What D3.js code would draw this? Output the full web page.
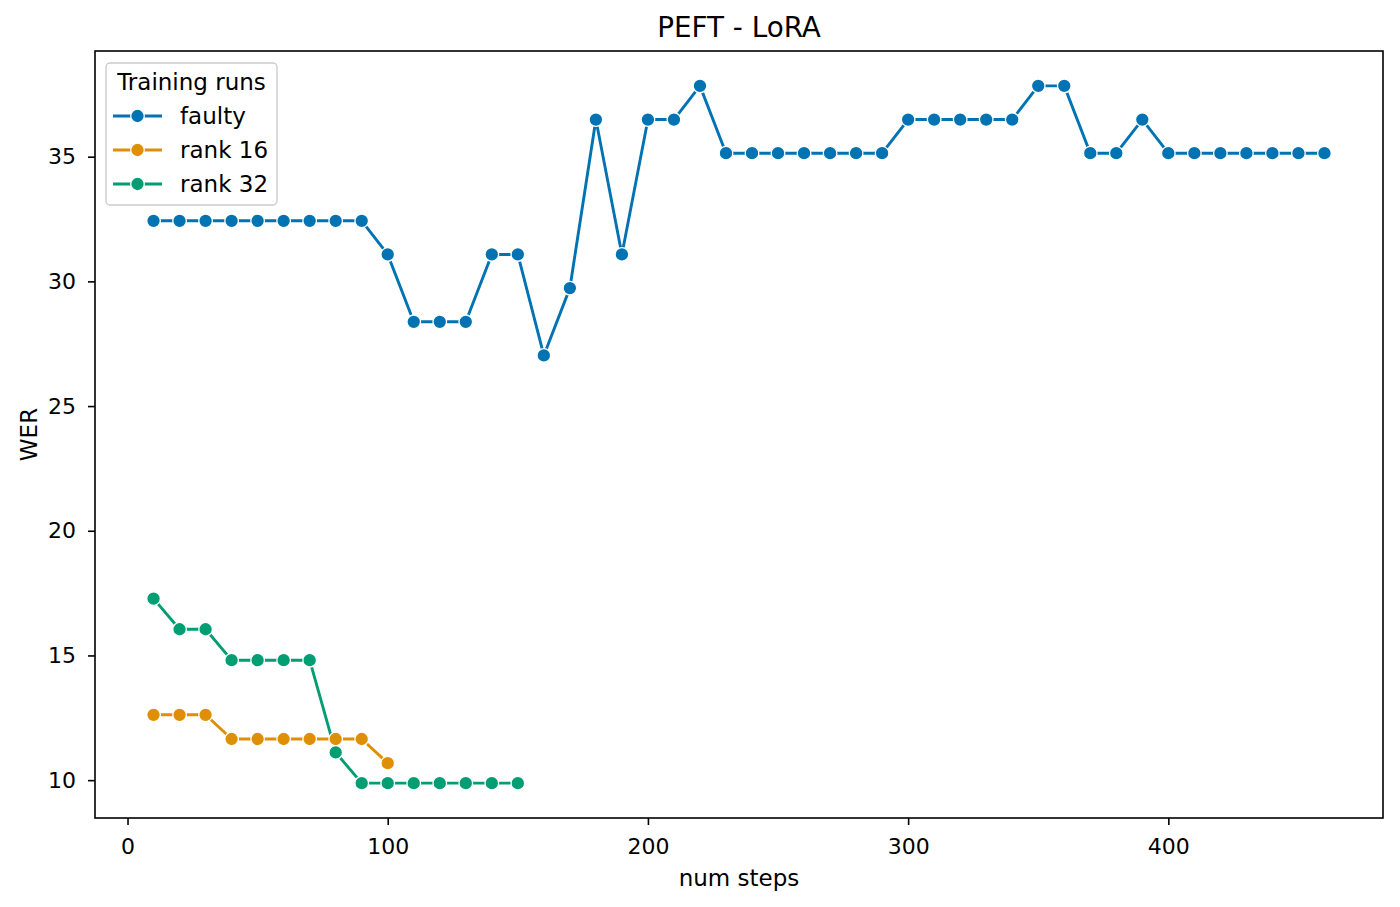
<!DOCTYPE html>
<html>
<head>
<meta charset="utf-8">
<script src="https://cdn.jsdelivr.net/npm/d3@7"></script>
<style>
  html, body { margin: 0; padding: 0; background: #fff; }
  svg { display: block; font-family: "DejaVu Sans", sans-serif; }
</style>
</head>
<body>
<div id="chart"></div>
<script>
// PEFT - LoRA : WER par nombre de steps, trois runs
const steps = d3.range(10, 470, 10)

const faulty = [
  32.43, 32.43, 32.43, 32.43, 32.43, 32.43, 32.43, 32.43, 32.43,
  31.08, 28.38, 28.38, 28.38, 31.08, 31.08, 27.03, 29.73, 36.49, 31.08,
  36.49, 36.49, 37.84,
  35.14, 35.14, 35.14, 35.14, 35.14, 35.14, 35.14,
  36.49, 36.49, 36.49, 36.49, 36.49,
  37.84, 37.84, 35.14, 35.14, 36.49,
  35.14, 35.14, 35.14, 35.14, 35.14, 35.14, 35.14
]
const rank16 = [12.62, 12.62, 12.62, 11.65, 11.65, 11.65, 11.65, 11.65, 11.65, 10.68]
const rank32 = [17.28, 16.05, 16.05, 14.81, 14.81, 14.81, 14.81, 11.11,
  9.88, 9.88, 9.88, 9.88, 9.88, 9.88, 9.88]

const seriesNames = ["faulty", "rank 16", "rank 32"]
const seriesValues = [faulty, rank16, rank32]
const palette = ["#0173b2", "#de8f05", "#029e73"]
const xTicks = [0, 100, 200, 300, 400]
const yTicks = [10, 15, 20, 25, 30, 35]

const W = 1400, H = 907
const margin = { top: 51, right: 17, bottom: 89, left: 95 }
const width = W - margin.left - margin.right
const height = H - margin.top - margin.bottom

const series = seriesNames.map((name, i) => ({
  name,
  color: palette[i],
  points: seriesValues[i].map((v, j) => ({ x: steps[j], y: v }))
}))

const all = series.flatMap(s => s.points)
const xExt = d3.extent(all, p => p.x)
const yExt = d3.extent(all, p => p.y)
const xPad = (xExt[1] - xExt[0]) * 0.05
const yPad = (yExt[1] - yExt[0]) * 0.05

const x = d3.scaleLinear().domain([xExt[0] - xPad, xExt[1] + xPad]).range([0, width])
const y = d3.scaleLinear().domain([yExt[0] - yPad, yExt[1] + yPad]).range([height, 0])

const svg = d3.select("#chart").append("svg")
  .attr("width", W).attr("height", H)
  .style("background", "#fff")

// Titre
svg.append("text")
  .attr("x", margin.left + width / 2).attr("y", 37)
  .attr("text-anchor", "middle").attr("font-size", 27.8).attr("fill", "#000")
  .text("PEFT - LoRA")

const g = svg.append("g").attr("transform", `translate(${margin.left},${margin.top})`)

// Axes
const xAxis = g.append("g")
  .attr("transform", `translate(0,${height})`)
  .call(d3.axisBottom(x).tickValues(xTicks).tickSize(7).tickPadding(13).tickFormat(d3.format("d")))
xAxis.select(".domain").remove()

const yAxis = g.append("g")
  .call(d3.axisLeft(y).tickValues(yTicks).tickSize(7).tickPadding(12).tickFormat(d3.format("d")))
yAxis.select(".domain").remove()

for (const ax of [xAxis, yAxis]) {
  ax.attr("font-size", 22).attr("font-family", "DejaVu Sans, sans-serif")
  ax.selectAll("line").attr("stroke", "#000").attr("stroke-width", 1.6)
  ax.selectAll("text").attr("fill", "#000")
}

// Cadre
g.append("rect")
  .attr("width", width).attr("height", height)
  .attr("fill", "none").attr("stroke", "#000").attr("stroke-width", 1.6)

// Labels d'axes
g.append("text")
  .attr("x", width / 2).attr("y", height + 68)
  .attr("text-anchor", "middle").attr("font-size", 23).attr("fill", "#000")
  .text("num steps")

g.append("text")
  .attr("transform", "rotate(-90)")
  .attr("x", -height / 2).attr("y", -58)
  .attr("text-anchor", "middle").attr("font-size", 23).attr("fill", "#000")
  .text("WER")

// Lignes + marqueurs
const line = d3.line().x(p => x(p.x)).y(p => y(p.y))

series.forEach(s => {
  g.append("path")
    .datum(s.points)
    .attr("fill", "none")
    .attr("stroke", s.color)
    .attr("stroke-width", 2.9)
    .attr("stroke-linejoin", "round")
    .attr("d", line)
})

series.forEach(s => {
  g.selectAll(null)
    .data(s.points)
    .join("circle")
    .attr("cx", p => x(p.x))
    .attr("cy", p => y(p.y))
    .attr("r", 6.8)
    .attr("fill", s.color)
    .attr("stroke", "#fff")
    .attr("stroke-width", 1.3)
})

// Légende
const legend = svg.append("g").attr("transform", "translate(106,63)")
legend.append("rect")
  .attr("width", 171).attr("height", 142).attr("rx", 4)
  .attr("fill", "#fff").attr("fill-opacity", 0.8)
  .attr("stroke", "#ccc").attr("stroke-width", 1.4)
legend.append("text")
  .attr("x", 85.5).attr("y", 27)
  .attr("text-anchor", "middle").attr("font-size", 23).attr("fill", "#000")
  .text("Training runs")

series.forEach((s, i) => {
  const row = legend.append("g").attr("transform", `translate(0,${53 + i * 34})`)
  row.append("line")
    .attr("x1", 7).attr("x2", 56)
    .attr("stroke", s.color).attr("stroke-width", 2.9)
  row.append("circle")
    .attr("cx", 31.5).attr("r", 6.8)
    .attr("fill", s.color).attr("stroke", "#fff").attr("stroke-width", 1.3)
  row.append("text")
    .attr("x", 74).attr("y", 8)
    .attr("font-size", 23).attr("fill", "#000")
    .text(s.name)
})
</script>
</body>
</html>
